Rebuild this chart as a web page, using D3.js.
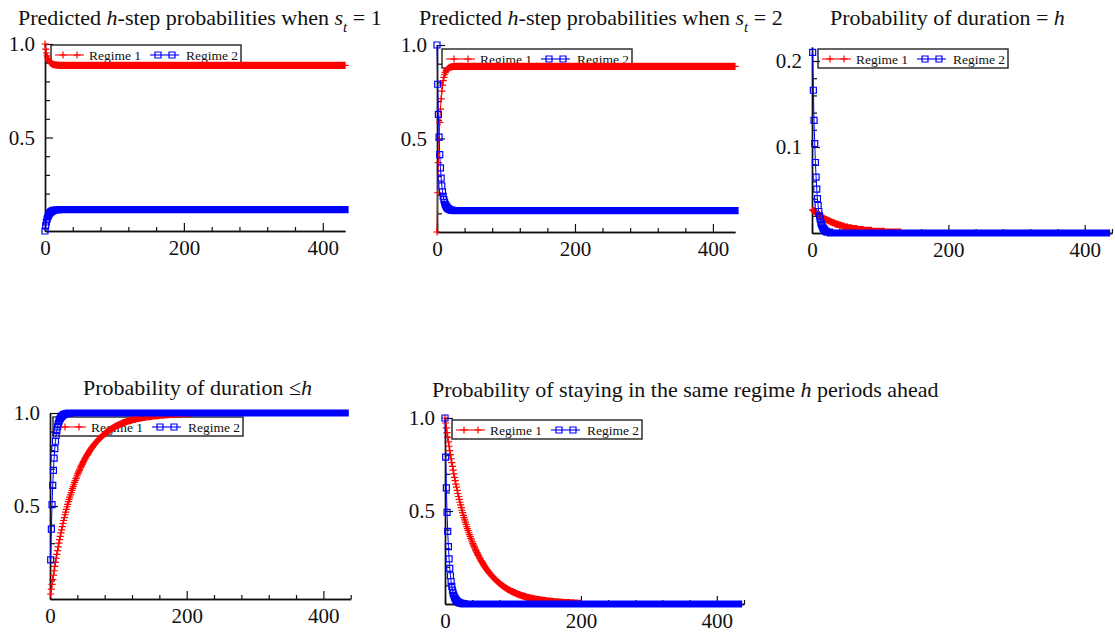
<!DOCTYPE html>
<html>
<head>
<meta charset="utf-8">
<script src="https://cdn.jsdelivr.net/npm/d3@7"></script>
<style>
  body { margin: 0; background: #fff; }
  svg { display: block; font-family: "Liberation Serif", "Times New Roman", serif; }
</style>
</head>
<body>
<svg id="fig" width="1115" height="637"></svg>
<script>
// ---------------------------------------------------------------
// Data: regime probabilities by forecast horizon h.
// Each list starts at its first horizon; a series stays at its last
// listed value out to its final horizon (flat tails).
// ---------------------------------------------------------------
const regimeNames = ["Regime 1", "Regime 2"];
const xMajorTicks = [0, 200, 400];
const xMinorStep = 40;

// Predicted h-step probabilities when s_t = 1 (h = 0, 1, ...)
const predS1Regime1 = [1, .973, .952, .937, .925, .915, .908, .903, .899, .896, .894, .892, .890, .889, .889, .888, .887, .887, .887, .887, .886];
const predS1Regime2 = [0, .027, .048, .063, .075, .085, .092, .097, .101, .104, .106, .108, .110, .111, .111, .112, .113, .113, .113, .113, .114];

// Predicted h-step probabilities when s_t = 2 (h = 0, 1, ...)
const predS2Regime1 = [0, .210, .371, .493, .586, .657, .712, .753, .785, .809, .827, .841, .852, .860, .866, .871, .874, .877, .879, .881, .882, .883, .884, .884, .885, .885, .886];
const predS2Regime2 = [1, .790, .629, .507, .414, .343, .288, .247, .215, .191, .173, .159, .148, .140, .134, .129, .126, .123, .121, .119, .118, .117, .116, .116, .115, .115, .114];

// Probability of duration = h (h = 1, 2, ...)
const durEqRegime1 = [
  .027,.026,.026,.025,.024,.024,.023,.022,.022,.021,
  .021,.020,.019,.019,.018,.018,.017,.017,.016,.016,
  .016,.015,.015,.014,.014,.014,.013,.013,.013,.012,
  .012,.012,.011,.011,.011,.010,.010,.010,.010,.009,
  .009,.009,.009,.008,.008,.008,.008,.007,.007,.007,
  .007,.007,.006,.006,.006,.006,.006,.006,.005,.005,
  .005,.005,.005,.005,.005,.005,.004,.004,.004,.004,
  .004,.004,.004,.004,.004,.003,.003,.003,.003,.003,
  .003,.003,.003,.003,.003,.003,.003,.002,.002,.002,
  .002,.002,.002,.002,.002,.002,.002,.002,.002,.002,
  .002,.002,.002,.002,.002,.002,.001];
const durEqRegime2 = [.210,.166,.131,.104,.082,.065,.051,.040,.032,.025,.020,.016,.012,.010,.008,.006,.005,.004,.003,.002,.002,.001,.001,.001,.001,.001,0];

// Probability of duration <= h (h = 1, 2, ...)
const durLeRegime1 = [
  .027,.053,.079,.104,.128,.152,.175,.197,.219,.240,
  .260,.280,.300,.319,.337,.355,.372,.389,.406,.422,
  .437,.453,.467,.482,.496,.509,.523,.536,.548,.560,
  .572,.584,.595,.606,.617,.627,.637,.647,.656,.666,
  .675,.683,.692,.700,.709,.716,.724,.732,.739,.746,
  .753,.759,.766,.772,.778,.784,.790,.796,.801,.807,
  .812,.817,.822,.827,.831,.836,.840,.845,.849,.853,
  .857,.861,.865,.868,.872,.875,.879,.882,.885,.888,
  .891,.894,.897,.900,.903,.905,.908,.910,.913,.915,
  .917,.920,.922,.924,.926,.928,.930,.932,.934,.935,
  .937,.939,.940,.942,.944,.945,.947,.948,.950,.951,
  .952,.953,.955,.956,.957,.958,.959,.960,.962,.963,
  .964,.965,.966,.966,.967,.968,.969,.970,.971,.971,
  .972,.973,.974,.974,.975,.976,.976,.977,.978,.978,
  .979,.979,.980,.980,.981,.981,.982,.982,.983,.983,
  .984,.984,.984,.985,.985,.986,.986,.986,.987,.987,
  .988,.988,.988,.989,.989,.989,.990,.990,.990,.990,
  .991,.991,.991,.992,.992,.992,.992,.992,.993,.993,
  .993,.993,.993,.994,.994,.994,.994,.994,.994,.995,
  .995,.995,.995,.995,.995,.996];
const durLeRegime2 = [.210,.376,.507,.611,.692,.757,.808,.848,.880,.905,.925,.941,.953,.963,.971,.977,.982,.986,.989,.991,.993,.994,.996,.997,.997,.998,.998,.999,.999,.999,1];

// Probability of staying in the same regime h periods ahead (h = 0, 1, ...)
const stayRegime1 = [
  1,.973,.947,.921,.896,.872,.848,.825,.803,.781,
  .760,.740,.720,.700,.681,.663,.645,.628,.611,.594,
  .578,.563,.547,.533,.518,.504,.491,.477,.464,.452,
  .440,.428,.416,.405,.394,.383,.373,.363,.353,.344,
  .334,.325,.317,.308,.300,.291,.284,.276,.268,.261,
  .254,.247,.241,.234,.228,.222,.216,.210,.204,.199,
  .193,.188,.183,.178,.173,.169,.164,.160,.155,.151,
  .147,.143,.139,.135,.132,.128,.125,.121,.118,.115,
  .112,.109,.106,.103,.100,.097,.095,.092,.090,.087,
  .085,.083,.080,.078,.076,.074,.072,.070,.068,.066,
  .065,.063,.061,.060,.058,.056,.055,.053,.052,.050,
  .049,.048,.047,.045,.044,.043,.042,.041,.040,.038,
  .037,.036,.035,.034,.034,.033,.032,.031,.030,.029,
  .029,.028,.027,.026,.026,.025,.024,.024,.023,.022,
  .022,.021,.021,.020,.020,.019,.019,.018,.018,.017,
  .017,.016,.016,.016,.015,.015,.014,.014,.014,.013,
  .013,.012,.012,.012,.011,.011,.011,.010,.010,.010,
  .010,.009,.009,.009,.008,.008,.008,.008,.008,.007,
  .007,.007,.007,.007,.006,.006,.006,.006,.006,.006,
  .005,.005,.005,.005,.005,.005,.004,.004,.004,.004,
  .004];
const stayRegime2 = [1,.790,.624,.493,.390,.308,.243,.192,.152,.120,.095,.075,.059,.047,.037,.029,.023,.018,.014,.011,.009,.007,.006,.004,.003,.003,.002,.002,.001,.001,0];

// ---------------------------------------------------------------
// Styling and layout
// ---------------------------------------------------------------
const RED = "#ff0000", BLUE = "#0000ff";
const FONT_TITLE = 22, FONT_TICK = 21, FONT_LEGEND = 13.5;

const panels = [
  { title: [["Predicted "], ["h", "i"], ["-step probabilities when "], ["s", "i"], ["t", "sub"], [" = 1"]],
    titleAt: [18, 25],
    x0: 45, x1: 345, xMax: 432, yBase: 231, yTopPx: 44, yMax: 1,
    yMajor: [0.5, 1.0], yMinor: d3.range(1, 11).map(i => i * 0.1), yFmt: d3.format(".1f"),
    legendAt: [51, 45],
    series: [
      { values: predS1Regime1, first: 0, last: 432, color: RED, mark: "plus" },
      { values: predS1Regime2, first: 0, last: 432, color: BLUE, mark: "square" } ] },
  { title: [["Predicted "], ["h", "i"], ["-step probabilities when "], ["s", "i"], ["t", "sub"], [" = 2"]],
    titleAt: [419, 25],
    x0: 437, x1: 735, xMax: 432, yBase: 232, yTopPx: 45, yMax: 1,
    yMajor: [0.5, 1.0], yMinor: d3.range(1, 11).map(i => i * 0.1), yFmt: d3.format(".1f"),
    legendAt: [442, 49],
    series: [
      { values: predS2Regime1, first: 0, last: 432, color: RED, mark: "plus" },
      { values: predS2Regime2, first: 0, last: 432, color: BLUE, mark: "square" } ] },
  { title: [["Probability of duration = "], ["h", "i"]],
    titleAt: [830, 25],
    x0: 812, x1: 1112, xMax: 440, yBase: 233, yTopPx: 47, yMax: 0.2163,
    yMajor: [0.1, 0.2], yMinor: d3.range(1, 11).map(i => i * 0.02), yFmt: d3.format(".1f"),
    legendAt: [818, 49],
    series: [
      { values: durEqRegime1, first: 1, last: 130, color: RED, mark: "plus" },
      { values: durEqRegime2, first: 1, last: 432, color: BLUE, mark: "square" } ] },
  { title: [["Probability of duration \u2264"], ["h", "i"]],
    titleAt: [83, 395],
    x0: 50, x1: 350.7, xMax: 440, yBase: 599, yTopPx: 413, yMax: 1,
    yMajor: [0.5, 1.0], yMinor: d3.range(1, 11).map(i => i * 0.1), yFmt: d3.format(".1f"),
    legendAt: [53, 417],
    series: [
      { values: durLeRegime1, first: 1, last: 205, color: RED, mark: "plus" },
      { values: durLeRegime2, first: 1, last: 432, color: BLUE, mark: "square" } ] },
  { title: [["Probability of staying in the same regime "], ["h", "i"], [" periods ahead"]],
    titleAt: [432, 397],
    x0: 445, x1: 744, xMax: 440, yBase: 604, yTopPx: 418, yMax: 1,
    yMajor: [0.5, 1.0], yMinor: d3.range(1, 11).map(i => i * 0.1), yFmt: d3.format(".1f"),
    legendAt: [452, 420],
    series: [
      { values: stayRegime1, first: 0, last: 200, color: RED, mark: "plus" },
      { values: stayRegime2, first: 0, last: 432, color: BLUE, mark: "square" } ] }
];

const svg = d3.select("#fig");

// expand a listed series into {h, v} points, holding the last value to the end
function points(s) {
  const pts = [];
  for (let h = s.first; h <= s.last; h++) {
    const i = Math.min(h - s.first, s.values.length - 1);
    pts.push({ h, v: s.values[i] });
  }
  return pts;
}

const PLUS = 3.6, SQ = 3;
function markerPath(kind, pts, x, y) {
  return pts.map(d => {
    const px = x(d.h), py = y(d.v);
    return kind === "plus"
      ? `M${px - PLUS},${py}h${2 * PLUS}M${px},${py - PLUS}v${2 * PLUS}`
      : `M${px - SQ},${py - SQ}h${2 * SQ}v${2 * SQ}h${-2 * SQ}Z`;
  }).join("");
}

function drawTitle(parts, at) {
  const t = svg.append("text")
    .attr("x", at[0]).attr("y", at[1])
    .attr("font-size", FONT_TITLE).attr("fill", "#111");
  let shifted = false;
  parts.forEach(([txt, style]) => {
    const ts = t.append("tspan").text(txt);
    if (style === "i" || style === "sub") ts.attr("font-style", "italic");
    if (style === "sub") { ts.attr("dy", 7).attr("font-size", 15); shifted = true; }
    else if (shifted) { ts.attr("dy", -7); shifted = false; }
  });
}

function drawLegend(at) {
  const g = svg.append("g").attr("transform", `translate(${at[0]},${at[1]})`);
  g.append("rect").attr("width", 190).attr("height", 19)
    .attr("fill", "none").attr("stroke", "#222").attr("stroke-width", 1.4);
  const items = [
    { name: regimeNames[0], color: RED, mark: "plus", lx: 4, tx: 38 },
    { name: regimeNames[1], color: BLUE, mark: "square", lx: 99, tx: 135 }
  ];
  items.forEach(it => {
    const cy = 10;
    g.append("line").attr("x1", it.lx).attr("x2", it.lx + 29).attr("y1", cy).attr("y2", cy)
      .attr("stroke", it.color).attr("stroke-width", 1.1);
    const mk = [it.lx + 8, it.lx + 22].map(mx => it.mark === "plus"
      ? `M${mx - PLUS},${cy}h${2 * PLUS}M${mx},${cy - PLUS}v${2 * PLUS}`
      : `M${mx - SQ},${cy - SQ}h${2 * SQ}v${2 * SQ}h${-2 * SQ}Z`).join("");
    g.append("path").attr("d", mk).attr("fill", "none")
      .attr("stroke", it.color).attr("stroke-width", 1.2);
    g.append("text").attr("x", it.tx).attr("y", 15)
      .attr("font-size", FONT_LEGEND).attr("fill", "#111").text(it.name);
  });
}

function styleAxis(sel) {
  sel.attr("font-size", null).attr("font-family", null);
  sel.select(".domain").attr("stroke", "#111").attr("stroke-width", 1.4);
  sel.selectAll(".tick line").attr("stroke", "#111").attr("stroke-width", 1.2);
  sel.selectAll(".tick text").attr("font-size", FONT_TICK).attr("fill", "#111");
}

panels.forEach(p => {
  const x = d3.scaleLinear().domain([0, p.xMax]).range([p.x0, p.x1]);
  const y = d3.scaleLinear().domain([0, p.yMax]).range([p.yBase, p.yTopPx]);

  drawTitle(p.title, p.titleAt);
  drawLegend(p.legendAt);

  // x axis: minor ticks, then major ticks with labels (ticks point inward)
  const xMinor = d3.range(xMinorStep, p.xMax + 1, xMinorStep).filter(v => !xMajorTicks.includes(v));
  svg.append("g").attr("transform", `translate(0,${p.yBase})`)
    .call(d3.axisBottom(x).tickValues(xMinor).tickSize(-4).tickSizeOuter(0).tickFormat(""))
    .call(styleAxis);
  svg.append("g").attr("transform", `translate(0,${p.yBase})`)
    .call(d3.axisBottom(x).tickValues(xMajorTicks).tickSize(-8).tickSizeOuter(0).tickPadding(9).tickFormat(d3.format("d")))
    .call(styleAxis);

  // y axis
  const yMinor = p.yMinor.filter(v => !p.yMajor.some(m => Math.abs(m - v) < 1e-9));
  svg.append("g").attr("transform", `translate(${p.x0},0)`)
    .call(d3.axisLeft(y).tickValues(yMinor).tickSize(-5).tickSizeOuter(0).tickFormat(""))
    .call(styleAxis);
  svg.append("g").attr("transform", `translate(${p.x0},0)`)
    .call(d3.axisLeft(y).tickValues(p.yMajor).tickSize(-8).tickSizeOuter(0).tickPadding(10).tickFormat(p.yFmt))
    .call(styleAxis);

  // series: connecting line plus a marker at every horizon
  const line = d3.line().x(d => x(d.h)).y(d => y(d.v));
  p.series.forEach(s => {
    const pts = points(s);
    svg.append("path").attr("d", line(pts)).attr("fill", "none")
      .attr("stroke", s.color).attr("stroke-width", 1);
    svg.append("path").attr("d", markerPath(s.mark, pts, x, y)).attr("fill", "none")
      .attr("stroke", s.color).attr("stroke-width", 1.2);
  });
});
</script>
</body>
</html>
